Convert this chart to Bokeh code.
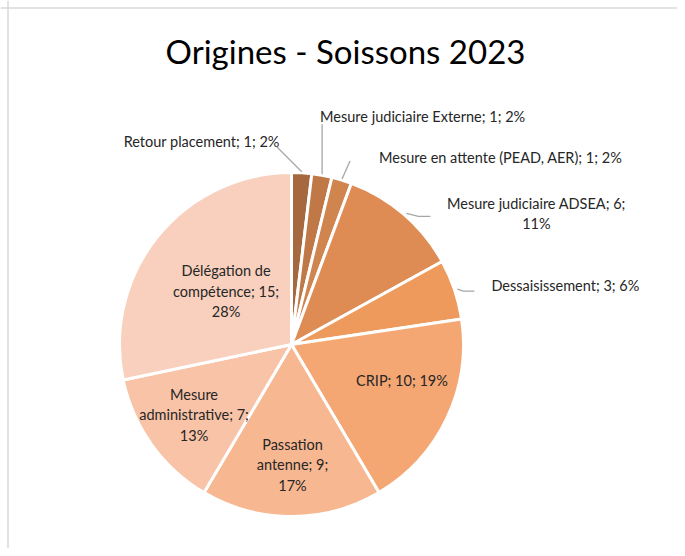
import math
from bokeh.plotting import figure
from bokeh.models import Range1d, ColumnDataSource, Span
from bokeh.core.properties import value
from bokeh.embed import file_html
from bokeh.resources import INLINE

# ---- data ----
categories = ["Retour placement", "Mesure judiciaire Externe", "Mesure en attente (PEAD, AER)",
              "Mesure judiciaire ADSEA", "Dessaisissement", "CRIP", "Passation antenne",
              "Mesure administrative", "Délégation de compétence"]
counts = [1, 1, 1, 6, 3, 10, 9, 7, 15]
colors = ["#A5683F", "#C07946", "#D0854F", "#DE8C54", "#EE9A5C",
          "#F4A773", "#F7B791", "#F8C3A6", "#F8D0BD"]
title_text = "Origines - Soissons 2023"

# label layout templates (line breaks only)
templates = ["{c}; {v}; {p}%", "{c}; {v}; {p}%", "{c}; {v}; {p}%",
             "{c}; {v};\n{p}%", "{c}; {v}; {p}%", "{c}; {v}; {p}%",
             "Passation\nantenne; {v};\n{p}%", "Mesure\nadministrative; {v};\n{p}%",
             "Délégation de\ncompétence; {v};\n{p}%"]

W, H = 677, 548
p = figure(width=W, height=H, x_range=Range1d(0, W), y_range=Range1d(0, H),
           output_backend="svg", toolbar_location=None, min_border=0,
           x_axis_location=None, y_axis_location=None, title=None)
p.grid.visible = False
p.outline_line_color = None
p.background_fill_color = "white"
p.border_fill_color = "white"

def sx(x):  # screenshot x -> data
    return x
def sy(y):
    return H - y

# frame lines (left, top)
p.add_layout(Span(location=sx(7.5), dimension="height", line_color="#D9D9D9", line_width=1.5))
p.add_layout(Span(location=sy(7.5), dimension="width", line_color="#D9D9D9", line_width=1.5))

cx, cy, R = sx(291), sy(344), 172
total = sum(counts)
cum = 0
starts, ends, mids = [], [], []
for v in counts:
    a0 = math.pi / 2 - cum / total * 2 * math.pi
    cum += v
    a1 = math.pi / 2 - cum / total * 2 * math.pi
    starts.append(a0); ends.append(a1); mids.append((a0 + a1) / 2)

src = ColumnDataSource(dict(start=starts, end=ends, color=colors))
p.wedge(x=cx, y=cy, radius=R, start_angle="start", end_angle="end", direction="clock",
        fill_color="color", line_color="white", line_width=3, source=src)

pcts = [round(v / total * 100) for v in counts]
texts = [t.format(c=c, v=v, p=pc) for t, c, v, pc in zip(templates, categories, counts, pcts)]

font = value("Lato")
fs = "14.5px"
tcol = "#262626"
lh = 1.2

# inside labels: (radius factor, dx, dy)
inside = {5: (0.66, 8, 13), 6: (0.70, 1, 0), 7: (0.69, -1, -1), 8: (0.49, 0, 0)}
for i, (rf, dx, dy) in inside.items():
    a = mids[i]
    x = cx + rf * R * math.cos(a) + dx
    y = cy + rf * R * math.sin(a) + dy
    p.text(x=[x], y=[y], text=[texts[i]], text_align="center", text_baseline="middle",
           text_font=font, text_font_size=fs, text_color=tcol, text_line_height=lh)

# outside labels with leader lines
lead_col = "#A6A6A6"
outside = {
    0: dict(leader=[(0, 0), (-25, 25)], txt=(-22, 30), align="right"),
    1: dict(leader=[(0, 0), (0, 50)], txt=(-2, 58), align="left"),
    2: dict(leader=[(0, 0), (8, 18)], txt=(37, 22), align="left"),
    3: dict(leader=[(2, 0), (14, -3), (26, -3)], txt=(132, 0), align="center"),
    4: dict(leader=[(2, 0), (8, -2), (19, -2)], txt=(36, 4), align="left"),
}
for i, o in outside.items():
    a = mids[i]
    ex = cx + (R + 1) * math.cos(a)
    ey = cy + (R + 1) * math.sin(a)
    xs = [ex + d[0] for d in o["leader"]]
    ys = [ey + d[1] for d in o["leader"]]
    p.line(xs, ys, line_color=lead_col, line_width=1.3)
    p.text(x=[ex + o["txt"][0]], y=[ey + o["txt"][1]], text=[texts[i]],
           text_align=o["align"], text_baseline="middle", text_font=font,
           text_font_size=fs, text_color=tcol, text_line_height=lh)

p.text(x=[sx(345)], y=[sy(50)], text=[title_text], text_align="center",
       text_baseline="middle", text_font=font, text_font_size="33px", text_color="#000000")

open("out.html", "w").write(file_html(p, INLINE))
